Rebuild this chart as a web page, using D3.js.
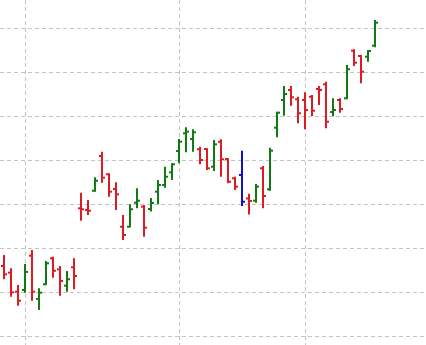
<!DOCTYPE html>
<html>
<head>
<meta charset="utf-8">
<script src="https://cdn.jsdelivr.net/npm/d3@7"></script>
<style>
  body { margin: 0; background: #fff; }
</style>
</head>
<body>
<svg width="426" height="345"></svg>
<script>
// OHLC values, one entry per trading day
const opens = [
  27.98, 27.22, 25.06, 25.25, 29.15, 24.23, 25.90, 28.85, 27.60, 25.74, 27.83,
  34.53, 34.34, 36.53, 40.48, 38.40, 36.73, 32.44, 32.44, 35.17, 34.72,
  34.45, 36.42, 37.18, 38.62, 41.04, 43.05, 42.41, 41.24, 41.27, 39.26,
  42.10, 40.13, 37.94, 38.32, 35.65, 35.40, 39.08, 36.69, 43.69, 46.84,
  47.97, 46.92, 46.84, 47.21, 48.09, 48.62, 45.47, 46.84, 47.03, 52.44,
  51.84, 51.76, 53.01
];
const highs = [
  29.23, 27.72, 25.82, 28.20, 29.80, 25.44, 28.55, 29.03, 27.98, 27.41, 28.85,
  36.31, 35.48, 38.05, 40.96, 38.51, 37.49, 33.77, 34.99, 36.81, 34.91,
  35.70, 37.75, 39.26, 39.65, 42.41, 43.74, 43.51, 41.53, 41.35, 42.29,
  42.37, 40.21, 38.12, 41.08, 36.19, 37.29, 39.34, 41.42, 45.51, 48.43,
  48.43, 47.21, 47.71, 47.41, 48.43, 48.92, 47.03, 47.03, 50.81, 52.60,
  51.95, 52.52, 55.93
];
const lows = [
  26.47, 24.49, 23.47, 24.94, 24.03, 22.98, 25.82, 26.65, 24.60, 25.06, 25.33,
  33.12, 33.77, 36.42, 37.44, 35.85, 34.34, 30.93, 32.37, 34.53, 31.31,
  34.17, 34.99, 36.87, 37.75, 39.65, 40.90, 40.96, 39.53, 38.88, 38.77,
  38.12, 37.37, 36.61, 34.79, 33.83, 35.17, 34.53, 36.53, 42.60, 45.05,
  46.19, 44.19, 43.51, 45.02, 46.27, 43.62, 44.99, 45.40, 46.92, 50.70,
  48.74, 51.19, 52.83
];
const closes = [
  27.03, 24.99, 24.03, 27.30, 25.06, 24.94, 28.28, 27.44, 26.27, 26.47, 26.84,
  34.42, 34.26, 37.67, 38.01, 36.42, 36.12, 31.50, 34.42, 35.40, 32.33,
  35.14, 37.18, 38.12, 39.53, 42.10, 43.24, 43.17, 40.02, 39.08, 41.80,
  40.10, 37.55, 36.99, 35.28, 35.36, 36.99, 35.93, 41.08, 45.40, 47.52,
  47.14, 45.33, 45.70, 45.62, 47.97, 44.37, 45.70, 45.82, 50.33, 51.08,
  50.05, 52.41, 55.62
];
// the one highlighted bar
const highlightDay = 34;
// days where the vertical grid lines fall
const gridDays = [3, 25, 43];

const data = opens.map((o, i) => ({
  day: i, open: o, high: highs[i], low: lows[i], close: closes[i]
}));

const svg = d3.select('svg'),
      width = +svg.attr('width'),
      height = +svg.attr('height');

const x = d3.scaleLinear()
  .domain([0, data.length - 1])
  .range([4, 375]);

const y = d3.scaleLinear()
  .domain([19, 58.2])
  .range([height, 0]);

const crisp = v => Math.round(v) + 0.5;

// grid
const grid = svg.append('g')
  .attr('stroke', '#c4c4c4')
  .attr('stroke-width', 1)
  .attr('stroke-dasharray', '4,3');

grid.selectAll('.hgrid')
  .data(y.ticks(8))
  .enter().append('line')
    .attr('class', 'hgrid')
    .attr('x1', 0)
    .attr('x2', width)
    .attr('y1', d => crisp(y(d)))
    .attr('y2', d => crisp(y(d)));

grid.selectAll('.vgrid')
  .data(gridDays)
  .enter().append('line')
    .attr('class', 'vgrid')
    .attr('y1', 0)
    .attr('y2', height)
    .attr('x1', d => crisp(x(d)))
    .attr('x2', d => crisp(x(d)));

const colour = d => d.day === highlightDay ? '#1010c8'
  : d.close >= d.open ? '#127a12' : '#dc1c24';

// ohlc bars
const bars = svg.append('g').selectAll('.ohlc')
  .data(data)
  .enter().append('g')
    .attr('class', 'ohlc')
    .attr('stroke', colour)
    .attr('stroke-width', 2);

bars.append('line')
  .attr('x1', d => x(d.day))
  .attr('x2', d => x(d.day))
  .attr('y1', d => y(d.high))
  .attr('y2', d => y(d.low));

bars.append('line')
  .attr('x1', d => x(d.day) - 3)
  .attr('x2', d => x(d.day))
  .attr('y1', d => y(d.open))
  .attr('y2', d => y(d.open));

bars.append('line')
  .attr('x1', d => x(d.day))
  .attr('x2', d => x(d.day) + 3)
  .attr('y1', d => y(d.close))
  .attr('y2', d => y(d.close));
</script>
</body>
</html>
